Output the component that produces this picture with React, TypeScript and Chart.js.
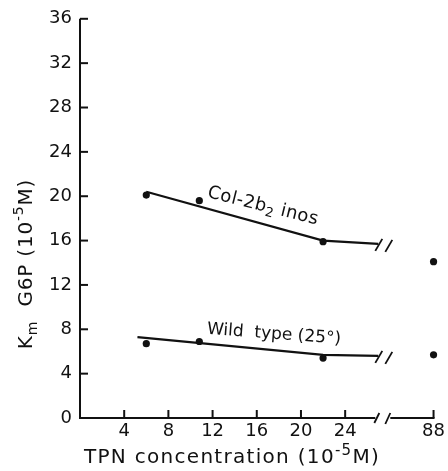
import { useEffect, useRef } from "react";
import { Chart, registerables } from "chart.js";

Chart.register(...registerables);

// ---- data ----
const X_TICK_VALUES = [4, 8, 12, 16, 20, 24, 88];
const Y_MIN = 0;
const Y_MAX = 36;
const Y_STEP = 4;

const TPN = [6, 10.8, 22, 88];
const COL_KM = [20.1, 19.6, 15.9, 14.1];
const WILD_KM = [6.7, 6.9, 5.4, 5.7];

const COL_FIT_X = [6, 22, 27];
const COL_FIT_Y = [20.4, 16.0, 15.7];
const WILD_FIT_X = [5.2, 22, 27];
const WILD_FIT_Y = [7.3, 5.7, 5.6];

// broken x axis: values up to 28 are drawn as is, 88 is drawn at 32
const BREAK_AT = 27;
const X_MAX_POS = 32;
function axisPos(v: number): number {
  return v <= 28 ? v : X_MAX_POS + (v - 88) * 0.5;
}

const INK = "#111";
const FAMILY = '"DejaVu Sans", sans-serif';

type Seg = { t: string; size: number; dy: number };

function drawSegs(ctx: any, segs: Seg[], x: number, y: number, align: "left" | "center", ls = 0) {
  ctx.letterSpacing = `${ls}px`;
  let total = 0;
  for (const s of segs) {
    ctx.font = `${s.size}px ${FAMILY}`;
    total += ctx.measureText(s.t).width;
  }
  let cx = align === "center" ? x - total / 2 : x;
  ctx.textAlign = "left";
  ctx.textBaseline = "alphabetic";
  for (const s of segs) {
    ctx.font = `${s.size}px ${FAMILY}`;
    ctx.fillText(s.t, cx, y + s.dy);
    cx += ctx.measureText(s.t).width;
  }
  ctx.letterSpacing = "0px";
}

const axesPlugin = {
  id: "brokenAxes",
  afterDraw(chart: any) {
    const { ctx, chartArea: a, scales } = chart;
    const x = scales.x;
    const y = scales.y;
    ctx.save();
    ctx.strokeStyle = INK;
    ctx.fillStyle = INK;
    ctx.lineWidth = 2;
    ctx.lineCap = "butt";
    const seg = (x1: number, y1: number, x2: number, y2: number) => {
      ctx.beginPath();
      ctx.moveTo(x1, y1);
      ctx.lineTo(x2, y2);
      ctx.stroke();
    };
    const y0 = y.getPixelForValue(Y_MIN);
    const yTop = y.getPixelForValue(Y_MAX);
    // y axis line + inward ticks
    seg(a.left, yTop, a.left, y0 + 1);
    for (let v = Y_MIN; v <= Y_MAX; v += Y_STEP) {
      const py = y.getPixelForValue(v);
      seg(a.left, py, a.left + 8, py);
    }
    // x axis with break
    const bx = x.getPixelForValue(BREAK_AT);
    seg(a.left - 1, y0, bx - 3, y0);
    seg(bx + 12, y0, x.getPixelForValue(X_MAX_POS) + 1, y0);
    ctx.lineWidth = 1.8;
    seg(bx - 4, y0 + 5, bx + 1, y0 - 5);
    seg(bx + 7, y0 + 6, bx + 12, y0 - 5);
    ctx.lineWidth = 2;
    for (const v of X_TICK_VALUES) {
      const px = x.getPixelForValue(axisPos(v));
      seg(px, y0, px, y0 - 8);
    }
    // break marks at the ends of the fitted lines
    ctx.lineWidth = 1.8;
    for (const ly of [COL_FIT_Y[COL_FIT_Y.length - 1], WILD_FIT_Y[WILD_FIT_Y.length - 1]]) {
      const py = y.getPixelForValue(ly);
      seg(bx - 3, py + 7, bx + 4, py - 5);
      seg(bx + 7, py + 8, bx + 14, py - 4);
    }
    // curve labels
    const lab = (xv: number, yv: number, deg: number, segs: Seg[], ls: number) => {
      ctx.save();
      ctx.translate(x.getPixelForValue(xv), y.getPixelForValue(yv));
      ctx.rotate((deg * Math.PI) / 180);
      drawSegs(ctx, segs, 0, 0, "left", ls);
      ctx.restore();
    };
    lab(11.47, 19.92, 14, [
      { t: "Col-2b", size: 18, dy: 0 },
      { t: "2", size: 13, dy: 4 },
      { t: " inos", size: 18, dy: 0 },
    ], 0.4);
    lab(11.47, 7.6, 4.3, [{ t: "Wild  type (25°)", size: 17, dy: 0 }], 0);
    // axis titles
    drawSegs(ctx, [
      { t: "TPN concentration (10", size: 20, dy: 0 },
      { t: "-5", size: 15, dy: -8 },
      { t: "M)", size: 20, dy: 0 },
    ], 232, 463, "center", 1.3);
    ctx.save();
    ctx.translate(32, 264);
    ctx.rotate(-Math.PI / 2);
    drawSegs(ctx, [
      { t: "K", size: 20, dy: 0 },
      { t: "m", size: 14, dy: 5 },
      { t: "  G6P (10", size: 20, dy: 0 },
      { t: "-5", size: 14, dy: -9 },
      { t: "M)", size: 20, dy: 0 },
    ], 0, 0, "center", 0.8);
    ctx.restore();
    ctx.restore();
  },
};

export default function App() {
  const ref = useRef<HTMLCanvasElement>(null);
  useEffect(() => {
    if (!ref.current) return;
    const pts = (xs: number[], ys: number[]) => xs.map((v, i) => ({ x: axisPos(v), y: ys[i] }));
    const lineDs = (data: any[]) => ({
      data,
      showLine: true,
      borderColor: INK,
      borderWidth: 2.2,
      pointRadius: 0,
      tension: 0,
      clip: false as any,
    });
    const dotDs = (data: any[]) => ({
      data,
      showLine: false,
      pointRadius: 3.6,
      pointBackgroundColor: INK,
      pointBorderWidth: 0,
      clip: false as any,
    });
    const tickFont = { family: FAMILY, size: 18 };
    const chart = new Chart(ref.current, {
      type: "scatter",
      data: {
        datasets: [
          lineDs(pts(COL_FIT_X, COL_FIT_Y)),
          lineDs(pts(WILD_FIT_X, WILD_FIT_Y)),
          dotDs(pts(TPN, COL_KM)),
          dotDs(pts(TPN, WILD_KM)),
        ] as any,
      },
      options: {
        responsive: false,
        animation: false,
        layout: { padding: { left: 8, top: 15, right: 11, bottom: 0 } },
        plugins: { legend: { display: false }, tooltip: { enabled: false } },
        scales: {
          x: {
            type: "linear",
            min: 0,
            max: X_MAX_POS,
            grid: { display: false, drawTicks: false },
            border: { display: false },
            afterBuildTicks: (s: any) => {
              s.ticks = X_TICK_VALUES.map((v) => ({ value: axisPos(v) }));
            },
            afterFit: (s: any) => {
              s.height = 53;
            },
            ticks: {
              font: tickFont,
              color: INK,
              padding: 3,
              autoSkip: false,
              maxRotation: 0,
              callback: (_v: any, i: number) => String(X_TICK_VALUES[i]),
            },
          },
          y: {
            type: "linear",
            min: Y_MIN,
            max: Y_MAX,
            grid: { display: false, drawTicks: false },
            border: { display: false },
            afterFit: (s: any) => {
              s.width = 72;
            },
            ticks: { stepSize: Y_STEP, font: tickFont, color: INK, padding: 8 },
          },
        },
      } as any,
      plugins: [axesPlugin],
    });
    return () => chart.destroy();
  }, []);
  return (
    <div style={{ position: "absolute", left: 0, top: 0, width: 448, height: 471, background: "#fff" }}>
      <canvas ref={ref} width={448} height={471} style={{ display: "block" }} />
    </div>
  );
}
